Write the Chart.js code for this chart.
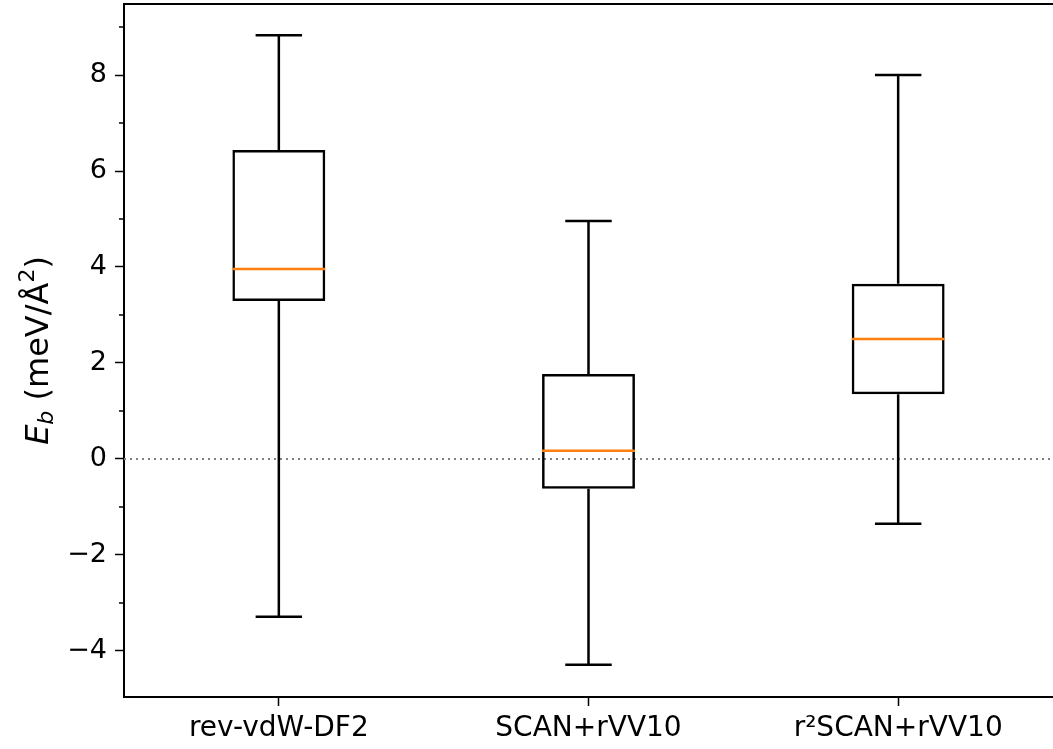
<!DOCTYPE html>
<html>
<head>
<meta charset="utf-8">
<script src="https://cdn.jsdelivr.net/npm/chart.js@4"></script>
<style>
  html, body { margin: 0; padding: 0; background: #fff; }
  #wrap { width: 1053px; height: 749px; }
</style>
</head>
<body>
<div id="wrap"><canvas id="boxChart" width="1053" height="749"></canvas></div>
<script>
// Box plot data (meV/Å²)
const categories = ['rev-vdW-DF2', 'SCAN+rVV10', 'r²SCAN+rVV10'];
const whiskerLow = [-3.29, -4.29, -1.35];
const q1 = [3.29, -0.62, 1.35];
const medians = [3.96, 0.17, 2.50];
const q3 = [6.44, 1.77, 3.65];
const whiskerHigh = [8.83, 4.96, 8.00];
const yTicks = [-4, -2, 0, 2, 4, 6, 8];
const yMinorTicks = [-3, -1, 1, 3, 5, 7, 9];

const FONT = 'DejaVu Sans';

// whiskers, caps, medians, zero line, top spine, minor ticks, y title
const boxExtras = {
    id: 'boxExtras',
    beforeDatasetsDraw(chart) {
        const { ctx, chartArea, scales: { y } } = chart;
        const y0 = y.getPixelForValue(0);
        ctx.save();
        ctx.strokeStyle = '#808080';
        ctx.lineWidth = 2;
        ctx.setLineDash([2, 4]);
        ctx.beginPath();
        ctx.moveTo(chartArea.left, y0);
        ctx.lineTo(chartArea.right, y0);
        ctx.stroke();
        ctx.restore();
    },
    afterDatasetsDraw(chart) {
        const { ctx, scales: { x, y } } = chart;
        const meta = chart.getDatasetMeta(0);
        ctx.save();
        ctx.lineWidth = 2.5;
        categories.forEach((c, i) => {
            const cx = x.getPixelForValue(i);
            const half = meta.data[i].width / 2;
            const capHalf = half / 2;
            ctx.strokeStyle = '#000';
            ctx.beginPath();
            ctx.moveTo(cx, y.getPixelForValue(q3[i]));
            ctx.lineTo(cx, y.getPixelForValue(whiskerHigh[i]));
            ctx.moveTo(cx, y.getPixelForValue(q1[i]));
            ctx.lineTo(cx, y.getPixelForValue(whiskerLow[i]));
            ctx.moveTo(cx - capHalf, y.getPixelForValue(whiskerHigh[i]));
            ctx.lineTo(cx + capHalf, y.getPixelForValue(whiskerHigh[i]));
            ctx.moveTo(cx - capHalf, y.getPixelForValue(whiskerLow[i]));
            ctx.lineTo(cx + capHalf, y.getPixelForValue(whiskerLow[i]));
            ctx.stroke();
            ctx.strokeStyle = '#ff7f0e';
            ctx.beginPath();
            ctx.moveTo(cx - half, y.getPixelForValue(medians[i]));
            ctx.lineTo(cx + half, y.getPixelForValue(medians[i]));
            ctx.stroke();
        });
        ctx.restore();
    },
    afterDraw(chart) {
        const { ctx, chartArea, scales: { y } } = chart;
        ctx.save();
        ctx.strokeStyle = '#000';
        ctx.lineWidth = 2;
        // top spine
        ctx.beginPath();
        ctx.moveTo(chartArea.left - 1, chartArea.top);
        ctx.lineTo(chartArea.right, chartArea.top);
        ctx.stroke();
        // minor ticks
        ctx.lineWidth = 1.5;
        ctx.beginPath();
        yMinorTicks.forEach(v => {
            const py = y.getPixelForValue(v);
            ctx.moveTo(chartArea.left, py);
            ctx.lineTo(chartArea.left - 5, py);
        });
        ctx.stroke();

        // y title: E_b (meV/Å²)
        ctx.translate(40, (chartArea.top + chartArea.bottom) / 2);
        ctx.rotate(-Math.PI / 2);
        ctx.fillStyle = '#000';
        ctx.textBaseline = 'middle';
        const parts = [
            { t: 'E', f: 'italic 32px ' + FONT, dy: 0 },
            { t: 'b', f: 'italic 22px ' + FONT, dy: 7 },
            { t: ' (meV/Å', f: '32px ' + FONT, dy: 0 },
            { t: '2', f: '22px ' + FONT, dy: -12 },
            { t: ')', f: '32px ' + FONT, dy: 0 }
        ];
        let total = 0;
        parts.forEach(p => { ctx.font = p.f; total += ctx.measureText(p.t).width; });
        let px = -total / 2;
        parts.forEach(p => {
            ctx.font = p.f;
            ctx.fillText(p.t, px, p.dy);
            px += ctx.measureText(p.t).width;
        });
        ctx.restore();
    }
};

const ctx = document.getElementById('boxChart').getContext('2d');
new Chart(ctx, {
    type: 'bar',
    data: {
        labels: categories,
        datasets: [{
            data: categories.map((c, i) => [q1[i], q3[i]]),
            backgroundColor: 'rgba(0,0,0,0)',
            borderColor: '#000',
            borderWidth: 2.5,
            borderSkipped: false,
            barPercentage: 0.3,
            categoryPercentage: 1.0
        }]
    },
    options: {
        responsive: false,
        animation: false,
        layout: { padding: { top: 4, right: 0, left: 0, bottom: 0 } },
        plugins: {
            legend: { display: false },
            tooltip: { enabled: false }
        },
        scales: {
            x: {
                offset: true,
                grid: { display: true, offset: false, drawOnChartArea: false, drawTicks: true, tickLength: 9, tickWidth: 1.5, tickColor: '#000' },
                border: { display: true, color: '#000', width: 2 },
                ticks: { color: '#000', font: { family: FONT, size: 28 }, padding: 6, maxRotation: 0 },
                afterFit(scale) { scale.height = 52; scale.paddingLeft = 0; scale.paddingRight = 0; }
            },
            y: {
                min: -4.96,
                max: 9.48,
                grid: { display: true, drawOnChartArea: false, drawTicks: true, tickLength: 9, tickWidth: 1.5, tickColor: '#000' },
                border: { display: true, color: '#000', width: 2 },
                ticks: { color: '#000', font: { family: FONT, size: 27 }, padding: 8,
                    callback: v => (v < 0 ? '\u2212' + Math.abs(v) : String(v)) },
                afterBuildTicks(scale) { scale.ticks = yTicks.map(v => ({ value: v })); },
                afterFit(scale) { scale.width = 124; scale.paddingTop = 0; scale.paddingBottom = 0; }
            }
        }
    },
    plugins: [boxExtras]
});
</script>
</body>
</html>
